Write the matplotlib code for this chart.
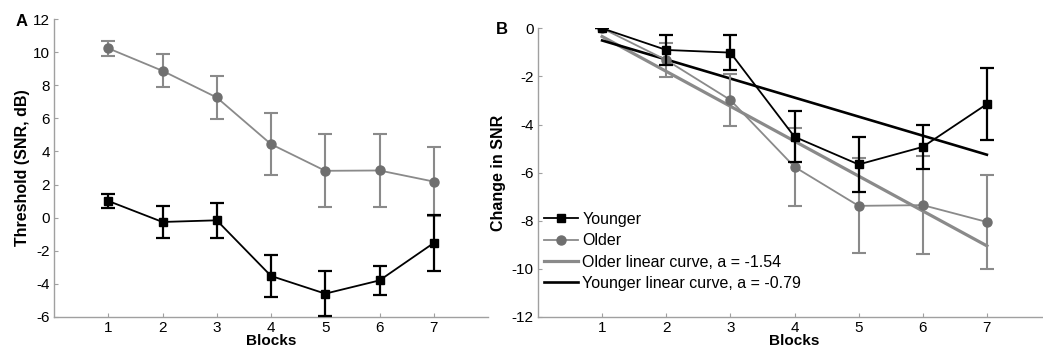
import numpy as np
import matplotlib
matplotlib.use("Agg")
import matplotlib.pyplot as plt

plt.rcParams['font.family'] = ['Liberation Sans', 'DejaVu Sans']
plt.rcParams['axes.unicode_minus'] = False

blocks = [1, 2, 3, 4, 5, 6, 7]

# Panel A: thresholds (SNR, dB), mean and error
older_thr = [10.23, 8.87, 7.26, 4.44, 2.83, 2.85, 2.18]
older_thr_err = [0.45, 1.0, 1.32, 1.86, 2.2, 2.23, 2.1]
younger_thr = [1.01, -0.26, -0.16, -3.52, -4.59, -3.79, -1.53]
younger_thr_err = [0.4, 0.96, 1.07, 1.26, 1.36, 0.86, 1.72]

# Panel B: change in SNR relative to block 1
older_chg = [0.0, -1.32, -2.98, -5.76, -7.38, -7.35, -8.05]
older_chg_err = [0.0, 0.7, 1.08, 1.62, 1.98, 2.04, 1.96]
younger_chg = [0.0, -0.9, -1.01, -4.51, -5.66, -4.93, -3.15]
younger_chg_err = [0.0, 0.62, 0.72, 1.06, 1.16, 0.93, 1.48]

legend_labels = ["Younger", "Older", "Older linear curve, a = -1.54",
                 "Younger linear curve, a = -0.79"]

GRAY_LINE = "#8a8a8a"
GRAY_MARK = "#6f6f6f"
SPINE = "#a0a0a0"
MS = {"o": 6.5, "s": 5.6}

fig = plt.figure(figsize=(10.43, 3.51), dpi=100)
W, H = 1043, 351

axA = fig.add_axes([54 / W, 1 - 317 / H, (488 - 54) / W, (317 - 19) / H])
axB = fig.add_axes([538 / W, 1 - 317 / H, 513 / W, (317 - 28.3) / H])


def style(ax):
    for s in ("top", "right"):
        ax.spines[s].set_visible(False)
    for s in ("left", "bottom"):
        ax.spines[s].set_color(SPINE)
        ax.spines[s].set_linewidth(1.0)
    ax.tick_params(direction="in", length=3, color=SPINE, labelsize=11,
                   pad=3)
    ax.set_xlim(0, 8)
    ax.set_xticks(blocks)
    ax.set_xlabel("Blocks", fontsize=11, fontweight="bold", labelpad=-1)


def draw_series(ax, y, e, color, mcolor, marker, lw_err, zorder):
    ax.errorbar(blocks, y, yerr=e, color=color, ecolor=color, elinewidth=lw_err,
                capsize=5, capthick=lw_err, lw=1.3, marker=marker,
                ms=MS[marker], mfc=mcolor, mec=mcolor, zorder=zorder)


# Panel A
style(axA)
draw_series(axA, older_thr, older_thr_err, GRAY_LINE, GRAY_MARK, "o", 1.5, 3)
draw_series(axA, younger_thr, younger_thr_err, "black", "black", "s", 1.6, 4)
axA.set_ylim(-6, 12)
axA.set_yticks(range(-6, 13, 2))
axA.set_ylabel("Threshold (SNR, dB)", fontsize=11.5, fontweight="bold",
               labelpad=2)
fig.text(22 / W, 1 - 22 / H, "A", fontsize=12, fontweight="bold",
         ha="center", va="center")

# Panel B
style(axB)
x = np.array(blocks, dtype=float)
po = np.polyfit(x, older_chg, 1)
py = np.polyfit(x, younger_chg, 1)
lo, = axB.plot(x, np.polyval(po, x), color=GRAY_LINE, lw=2.3, zorder=2)
ly, = axB.plot(x, np.polyval(py, x), color="black", lw=1.9, zorder=2)
draw_series(axB, older_chg, older_chg_err, GRAY_LINE, GRAY_MARK, "o", 1.5, 3)
draw_series(axB, younger_chg, younger_chg_err, "black", "black", "s", 1.6, 4)
axB.set_ylim(-12, 0)
axB.set_yticks(range(-12, 1, 2))
axB.set_ylabel("Change in SNR", fontsize=11.5, fontweight="bold", labelpad=4)
fig.text(502 / W, 1 - 30 / H, "B", fontsize=12, fontweight="bold",
         ha="center", va="center")

hy = plt.Line2D([], [], color="black", lw=1.3, marker="s", ms=MS["s"])
ho = plt.Line2D([], [], color=GRAY_LINE, lw=1.3, marker="o", ms=MS["o"],
                mfc=GRAY_MARK, mec=GRAY_MARK)
axB.legend([hy, ho, lo, ly], legend_labels, loc="lower left",
           bbox_to_anchor=(0.012, 0.09), frameon=False, fontsize=11.5,
           handlelength=2.1, handletextpad=0.3, labelspacing=0.4,
           borderpad=0, borderaxespad=0, numpoints=1)

fig.savefig("out.png", dpi=100)
